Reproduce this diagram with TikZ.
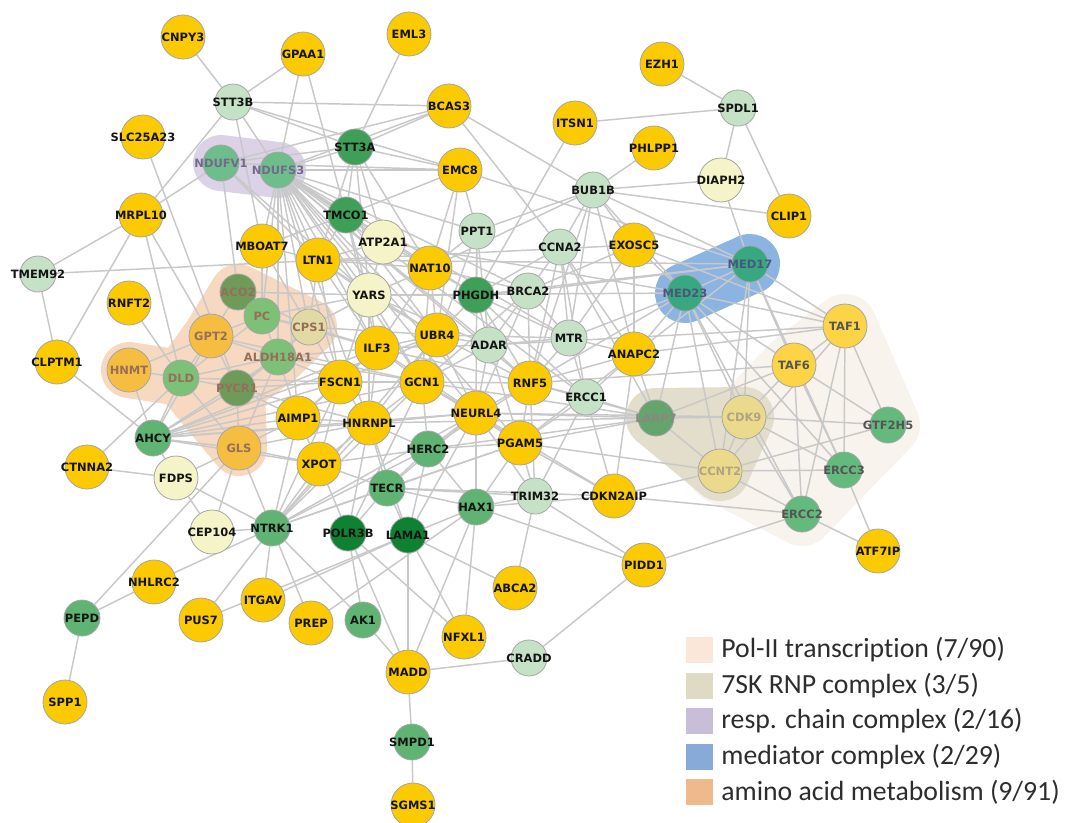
\documentclass[tikz,border=0pt]{standalone}
\usepackage{fontspec}
\usepackage{tikz}
\usetikzlibrary{positioning}

\newfontfamily\genefont{DejaVu Sans}
\newfontfamily\legendfont{Carlito}[Ligatures=NoCommon]

% node fills
\definecolor{geneyellow}{RGB}{252,202,0}
\definecolor{palegene}{RGB}{245,243,200}
\definecolor{lightgene}{RGB}{198,226,198}
\definecolor{midgene}{RGB}{95,180,115}
\definecolor{darkgene}{RGB}{62,160,88}
\definecolor{deepgene}{RGB}{14,130,50}
\definecolor{ndufgreen}{RGB}{110,190,140}
\definecolor{medgreen}{RGB}{55,168,128}
\definecolor{aminoolive}{RGB}{110,155,90}
\definecolor{aminogreen}{RGB}{125,192,120}
\definecolor{aminoyellow}{RGB}{245,190,65}
\definecolor{cpspale}{RGB}{225,218,165}
\definecolor{tafyellow}{RGB}{252,212,70}
\definecolor{polgreen}{RGB}{100,185,125}
\definecolor{sevenyellow}{RGB}{236,218,140}
\definecolor{larpgreen}{RGB}{100,165,110}
% label colours
\definecolor{genetext}{RGB}{20,20,20}
\definecolor{ndufText}{RGB}{115,105,140}
\definecolor{medText}{RGB}{75,85,125}
\definecolor{aminoText}{RGB}{150,110,90}
\definecolor{polText}{RGB}{85,85,85}
\definecolor{sevenText}{RGB}{175,165,130}
\definecolor{larpText}{RGB}{140,135,125}
\definecolor{legendtext}{RGB}{45,45,45}
% lines
\definecolor{edgegray}{RGB}{200,200,200}
\definecolor{nodeline}{RGB}{165,165,165}
% group hulls and legend
\definecolor{polhull}{RGB}{248,243,236}
\definecolor{sevenhull}{RGB}{226,222,203}
\definecolor{resphull}{RGB}{220,210,232}
\definecolor{medhull}{RGB}{140,180,226}
\definecolor{aminohull}{RGB}{247,216,192}
\definecolor{polleg}{RGB}{250,231,217}
\definecolor{sevenleg}{RGB}{222,218,196}
\definecolor{respleg}{RGB}{200,190,215}
\definecolor{medleg}{RGB}{135,170,215}
\definecolor{aminoleg}{RGB}{240,185,140}

\pgfdeclarelayer{hulls}
\pgfdeclarelayer{edges}
\pgfsetlayers{hulls,edges,main}

\tikzset{
  gene/.style={circle, draw=nodeline, line width=0.6pt, inner sep=0pt},
  big/.style={gene, minimum size=33pt},
  small/.style={gene, minimum size=27pt},
  lbl/.style={font=\genefont\bfseries\fontsize{8.6}{9}\selectfont, text=genetext, inner sep=0pt},
  edge/.style={draw=edgegray, line width=1.1pt},
  hull/.style={line join=round, line cap=round},
  legsq/.style={minimum size=20pt, inner sep=0pt},
  legtxt/.style={font=\legendfont\fontsize{20.8}{24}\selectfont, text=legendtext, inner sep=0pt}
}

\begin{document}
\begin{tikzpicture}[x=0.75pt, y=-0.75pt]
    \useasboundingbox (0,0) rectangle (1067,822);

    % yellow genes
    \foreach \n/\x/\y in {CNPY3/183/37, GPAA1/303/54, EML3/409/34, SLC25A23/143/137, BCAS3/449/106,
        ITSN1/575/123, EZH1/662/64, PHLPP1/654/148, EMC8/460/170, CLIP1/789/216, MRPL10/141/215,
        MBOAT7/262/246, LTN1/318/260, NAT10/430/268, EXOSC5/634/245, RNFT2/129/303, CLPTM1/57/362,
        ILF3/377/348, UBR4/437/335, FSCN1/340/382, GCN1/422/382, RNF5/530/383, ANAPC2/634/354,
        NEURL4/476/413, AIMP1/298/418, HNRNPL/369/423, PGAM5/520/443, XPOT/319/464, CTNNA2/87/467,
        CDKN2AIP/614/496, NHLRC2/154/582, ITGAV/263/600, PUS7/201/620, PREP/311/623, ABCA2/515/588,
        PIDD1/644/565, NFXL1/464/637, MADD/408/672, SPP1/65/702, SGMS1/413/805, ATF7IP/878/551}
        \node[big, fill=geneyellow, label={[lbl]center:\n}] (\n) at (\x,\y) {};

    % pale genes
    \foreach \n/\x/\y in {ATP2A1/383/242, YARS/369/295, DIAPH2/721/180, FDPS/176/478, CEP104/212/532}
        \node[big, fill=palegene, label={[lbl]center:\n}] (\n) at (\x,\y) {};

    % green genes, light to deep
    \foreach \n/\x/\y in {STT3B/233/102, TMEM92/38/274, PPT1/477/231, BUB1B/593/190, SPDL1/738/108,
        CCNA2/560/247, BRCA2/528/291, ADAR/489/345, MTR/569/338, ERCC1/586/397, TRIM32/535/496,
        CRADD/529/658}
        \node[small, fill=lightgene, label={[lbl]center:\n}] (\n) at (\x,\y) {};
    \foreach \n/\x/\y in {AHCY/153/438, NTRK1/272/528, HERC2/428/449, TECR/387/488, HAX1/476/507,
        AK1/363/620, PEPD/82/618, SMPD1/412/742}
        \node[small, fill=midgene, label={[lbl]center:\n}] (\n) at (\x,\y) {};
    \foreach \n/\x/\y in {STT3A/355/147, TMCO1/346/215, PHGDH/476/295}
        \node[small, fill=darkgene, label={[lbl]center:\n}] (\n) at (\x,\y) {};
    \foreach \n/\x/\y in {POLR3B/348/533, LAMA1/408/535}
        \node[small, fill=deepgene, label={[lbl]center:\n}] (\n) at (\x,\y) {};

    % resp. chain complex
    \foreach \n/\x/\y in {NDUFV1/221/163, NDUFS3/278/170}
        \node[small, fill=ndufgreen, label={[lbl, text=ndufText]center:\n}] (\n) at (\x,\y) {};
    % mediator complex
    \foreach \n/\x/\y in {MED23/685/293, MED17/750/264}
        \node[small, fill=medgreen, label={[lbl, text=medText]center:\n}] (\n) at (\x,\y) {};

    % amino acid metabolism
    \foreach \n/\x/\y in {ACO2/238/292, PYCR1/237/388}
        \node[small, fill=aminoolive, label={[lbl, text=aminoText]center:\n}] (\n) at (\x,\y) {};
    \foreach \n/\x/\y in {PC/262/316, ALDH18A1/278/357, DLD/181/378}
        \node[small, fill=aminogreen, label={[lbl, text=aminoText]center:\n}] (\n) at (\x,\y) {};
    \foreach \n/\x/\y in {GPT2/211/336, HNMT/129/370, GLS/239/448}
        \node[big, fill=aminoyellow, label={[lbl, text=aminoText]center:\n}] (\n) at (\x,\y) {};
    \node[small, fill=cpspale, label={[lbl, text=aminoText]center:CPS1}] (CPS1) at (309,327) {};

    % Pol-II transcription and 7SK RNP
    \foreach \n/\x/\y in {TAF1/845/326, TAF6/794/365}
        \node[big, fill=tafyellow, label={[lbl, text=polText]center:\n}] (\n) at (\x,\y) {};
    \foreach \n/\x/\y in {GTF2H5/888/425, ERCC3/844/470, ERCC2/802/514}
        \node[small, fill=polgreen, label={[lbl, text=polText]center:\n}] (\n) at (\x,\y) {};
    \foreach \n/\x/\y in {CDK9/744/417, CCNT2/720/471}
        \node[big, fill=sevenyellow, label={[lbl, text=sevenText]center:\n}] (\n) at (\x,\y) {};
    \node[small, fill=larpgreen, label={[lbl, text=larpText]center:LARP7}] (LARP7) at (656,418) {};

    % group hulls
    \begin{pgfonlayer}{hulls}
        \filldraw[polhull, hull, line width=48pt] (TAF1.center) -- (GTF2H5.center) -- (ERCC3.center)
            -- (ERCC2.center) -- (CCNT2.center) -- (CDK9.center) -- (TAF6.center) -- cycle;
        \filldraw[sevenhull, hull, line width=45pt] (LARP7.center) -- (CDK9.center) -- (CCNT2.center) -- cycle;
        \draw[resphull, hull, line width=42pt] (NDUFV1.center) -- (NDUFS3.center);
        \draw[medhull, hull, line width=45pt] (MED23.center) -- (MED17.center);
        \filldraw[aminohull, hull, line width=42pt] (HNMT.center) -- (DLD.center) -- (GPT2.center)
            -- (ACO2.center) -- (CPS1.center) -- (ALDH18A1.center) -- (PYCR1.center) -- (GLS.center)
            -- (DLD.center) -- cycle;
    \end{pgfonlayer}

    % interactions
    \begin{pgfonlayer}{edges}
    \foreach \a/\b in {CNPY3/STT3B, GPAA1/STT3B, GPAA1/NDUFS3, GPAA1/TMCO1, STT3B/BCAS3, STT3B/STT3A,
        STT3B/NDUFS3, STT3B/MRPL10, STT3B/MBOAT7, STT3B/EMC8, SLC25A23/PYCR1, NDUFV1/MRPL10,
        NDUFV1/STT3A, NDUFV1/ACO2, NDUFV1/LTN1, NDUFV1/BCAS3, NDUFV1/YARS, NDUFV1/EMC8,
        NDUFS3/STT3A, NDUFS3/EMC8, NDUFS3/BCAS3, NDUFS3/TMCO1, NDUFS3/LTN1, NDUFS3/ATP2A1,
        NDUFS3/YARS, NDUFS3/ILF3, NDUFS3/UBR4, NDUFS3/GCN1, NDUFS3/FSCN1, NDUFS3/NAT10,
        NDUFS3/PHGDH, NDUFS3/ADAR, NDUFS3/RNF5, NDUFS3/MTR, NDUFS3/NEURL4, NDUFS3/PGAM5,
        NDUFS3/HNRNPL, NDUFS3/CPS1, NDUFS3/PC, NDUFS3/ALDH18A1, NDUFS3/MBOAT7, NDUFS3/BRCA2,
        NDUFS3/ERCC1, NDUFS3/AIMP1, NDUFS3/PPT1,
        MRPL10/TMEM92, MRPL10/CLPTM1, MRPL10/GPT2, MRPL10/DLD, TMEM92/CLPTM1, TMEM92/EXOSC5,
        RNFT2/DLD, CLPTM1/AHCY, CTNNA2/DLD, CTNNA2/FDPS,
        STT3A/EML3, STT3A/BCAS3, STT3A/TMCO1, STT3A/EMC8, STT3A/ATP2A1, STT3A/NAT10, STT3A/YARS,
        STT3A/LTN1, TMCO1/EMC8, TMCO1/LTN1, TMCO1/ATP2A1, TMCO1/YARS, TMCO1/UBR4, TMCO1/ILF3,
        BCAS3/BUB1B, BCAS3/CCNA2, EMC8/PPT1, EMC8/NAT10, EMC8/MED17, EMC8/UBR4,
        ITSN1/SPDL1, ITSN1/PHGDH, EZH1/SPDL1, SPDL1/DIAPH2, SPDL1/CLIP1, PHLPP1/BUB1B, BUB1B/DIAPH2,
        BUB1B/CLIP1, BUB1B/CCNA2, BUB1B/EXOSC5, BUB1B/ANAPC2, BUB1B/MTR, BUB1B/MED23, BUB1B/NAT10,
        BUB1B/PPT1, BUB1B/MED17, BUB1B/RNF5, DIAPH2/MED17,
        PPT1/NAT10, PPT1/PHGDH, PPT1/GCN1, PPT1/ADAR, PPT1/NEURL4,
        CCNA2/BRCA2, CCNA2/MTR, CCNA2/RNF5, CCNA2/ANAPC2, CCNA2/ERCC1, CCNA2/PHGDH, CCNA2/LARP7,
        EXOSC5/MED23, EXOSC5/ANAPC2, EXOSC5/MTR, EXOSC5/BRCA2, EXOSC5/TAF1,
        MED17/MED23, MED17/TAF1, MED17/TAF6, MED17/CDK9, MED17/CCNT2, MED17/ERCC3, MED17/PHGDH,
        MED17/LTN1, MED17/BRCA2, MED17/ANAPC2,
        MED23/TAF1, MED23/TAF6, MED23/CDK9, MED23/CCNT2, MED23/ANAPC2, MED23/MTR, MED23/RNF5,
        MED23/ATP2A1, MED23/LARP7, MED23/ERCC3, MED23/YARS, MED23/ERCC2,
        TAF1/TAF6, TAF1/GTF2H5, TAF1/ERCC3, TAF1/ERCC2, TAF1/ANAPC2, TAF1/CCNT2, TAF1/ADAR,
        TAF6/GTF2H5, TAF6/ERCC3, TAF6/ERCC2, TAF6/CDK9, TAF6/LARP7, TAF6/RNF5,
        CDK9/GTF2H5, CDK9/ERCC3, CDK9/ERCC2, CDK9/CCNT2, CDK9/LARP7, CDK9/NEURL4,
        CCNT2/ERCC3, CCNT2/ERCC2, CCNT2/GTF2H5, CCNT2/LARP7, CCNT2/PGAM5,
        ERCC3/ATF7IP, ERCC2/ATF7IP, ERCC2/PIDD1, ERCC2/CDKN2AIP,
        LARP7/ERCC1, LARP7/RNF5, LARP7/NEURL4, LARP7/PGAM5, LARP7/ANAPC2, LARP7/GCN1, LARP7/HNRNPL,
        LARP7/HERC2, ANAPC2/ERCC1, ANAPC2/MTR, ANAPC2/RNF5, ANAPC2/CDKN2AIP, ANAPC2/PGAM5,
        CDKN2AIP/PGAM5, CDKN2AIP/HAX1, CDKN2AIP/NEURL4, CDKN2AIP/ERCC1, CDKN2AIP/CCNT2, CDKN2AIP/TECR,
        YARS/ATP2A1, YARS/ILF3, YARS/UBR4, YARS/GCN1, YARS/FSCN1, YARS/LTN1, YARS/PHGDH, YARS/NAT10,
        YARS/HNRNPL, YARS/CPS1, YARS/ADAR,
        ILF3/UBR4, ILF3/GCN1, ILF3/FSCN1, ILF3/HNRNPL, ILF3/NEURL4, ILF3/ADAR, ILF3/AIMP1, ILF3/RNF5,
        UBR4/GCN1, UBR4/ADAR, UBR4/PHGDH, UBR4/NAT10, UBR4/RNF5, UBR4/NEURL4, UBR4/HNRNPL, UBR4/FSCN1,
        UBR4/MTR, GCN1/FSCN1, GCN1/HNRNPL, GCN1/NEURL4, GCN1/RNF5, GCN1/HERC2, GCN1/PGAM5, GCN1/ADAR,
        GCN1/BRCA2, NAT10/PHGDH, NAT10/ATP2A1, NAT10/LTN1, NAT10/ILF3, NAT10/GCN1, NAT10/BRCA2,
        PHGDH/BRCA2, PHGDH/ADAR, PHGDH/MTR, PHGDH/RNF5, PHGDH/ERCC1,
        ADAR/RNF5, ADAR/NEURL4, ADAR/MTR, ADAR/BRCA2, ADAR/PGAM5,
        MTR/RNF5, MTR/ERCC1, BRCA2/MTR, BRCA2/RNF5, BRCA2/NEURL4,
        RNF5/NEURL4, RNF5/PGAM5, RNF5/ERCC1, RNF5/HERC2,
        NEURL4/PGAM5, NEURL4/HERC2, NEURL4/HNRNPL, NEURL4/HAX1, NEURL4/TRIM32, NEURL4/TECR,
        PGAM5/HAX1, PGAM5/TRIM32, PGAM5/HERC2, PGAM5/TECR, PGAM5/ERCC1,
        HNRNPL/FSCN1, HNRNPL/AIMP1, HNRNPL/XPOT, HNRNPL/HERC2, HNRNPL/TECR,
        FSCN1/AIMP1, FSCN1/XPOT, AIMP1/XPOT, XPOT/TECR, XPOT/NTRK1, XPOT/HERC2,
        HERC2/TECR, HERC2/HAX1, HERC2/LAMA1, TECR/LAMA1, TECR/POLR3B, TECR/HAX1, TECR/TRIM32,
        LTN1/ATP2A1, LTN1/MBOAT7, LTN1/FSCN1, LTN1/ILF3, LTN1/CPS1, LTN1/UBR4,
        MBOAT7/PC, MBOAT7/CPS1, MBOAT7/TMCO1,
        ACO2/PC, ACO2/GPT2, ACO2/CPS1, PC/GPT2, PC/CPS1, PC/ALDH18A1, PC/DLD, GPT2/DLD, GPT2/HNMT,
        GPT2/PYCR1, GPT2/ALDH18A1, HNMT/DLD, DLD/PYCR1, DLD/GLS, DLD/ALDH18A1, PYCR1/ALDH18A1,
        PYCR1/GLS, ALDH18A1/CPS1, GLS/ALDH18A1, CPS1/PYCR1,
        AHCY/HNMT, AHCY/DLD, AHCY/PYCR1, AHCY/GLS, AHCY/FDPS, AHCY/ALDH18A1, AHCY/GPT2, AHCY/AIMP1,
        AHCY/FSCN1, AHCY/ILF3, AHCY/GCN1, AHCY/HNRNPL, AHCY/XPOT, AHCY/UBR4, AHCY/NEURL4,
        CPS1/ILF3, CPS1/UBR4, CPS1/FSCN1, ALDH18A1/FSCN1, ALDH18A1/ILF3, ALDH18A1/GCN1, ALDH18A1/AIMP1,
        PYCR1/FSCN1, PYCR1/HNRNPL, PYCR1/AIMP1, GLS/AIMP1, GLS/XPOT, GLS/HNRNPL, GLS/NTRK1,
        DLD/FSCN1, PC/ILF3, PC/YARS, GPT2/GCN1, ACO2/YARS,
        FDPS/NTRK1, FDPS/CEP104, FDPS/GLS, CEP104/NTRK1, CEP104/GLS, PEPD/GLS, PEPD/NHLRC2,
        PEPD/SPP1, NHLRC2/NTRK1,
        NTRK1/PUS7, NTRK1/ITGAV, NTRK1/PREP, NTRK1/AK1, NTRK1/HNRNPL, NTRK1/AIMP1, NTRK1/TECR,
        NTRK1/GCN1, NTRK1/FSCN1, NTRK1/HERC2, NTRK1/NEURL4, NTRK1/PGAM5, NTRK1/UBR4,
        ITGAV/LAMA1, PREP/HAX1,
        POLR3B/AK1, POLR3B/MADD, POLR3B/NFXL1, POLR3B/HNRNPL, POLR3B/XPOT, POLR3B/GCN1,
        LAMA1/MADD, LAMA1/NFXL1, LAMA1/ABCA2, LAMA1/HAX1, LAMA1/PUS7, LAMA1/HNRNPL, LAMA1/NEURL4,
        HAX1/MADD, HAX1/NFXL1, HAX1/PIDD1, HAX1/TRIM32, TRIM32/ABCA2, TRIM32/PIDD1, TRIM32/RNF5,
        TRIM32/ERCC1, AK1/MADD, MADD/CRADD, MADD/SMPD1, SMPD1/SGMS1, CRADD/PIDD1}
        \draw[edge] (\a) -- (\b);
    \end{pgfonlayer}

    % legend
    \node[legsq, fill=polleg] (sqpol) at (699.5,650) {};
    \node[legtxt, right=6pt of sqpol] (txtpol) {Pol-II transcription (7/90)};
    \node[legsq, fill=sevenleg] (sqseven) at (699.5,686) {};
    \node[legtxt, right=6pt of sqseven] (txtseven) {7SK RNP complex (3/5)};
    \node[legsq, fill=respleg] (sqresp) at (699.5,721) {};
    \node[legtxt, right=6pt of sqresp] (txtresp) {resp. chain complex (2/16)};
    \node[legsq, fill=medleg] (sqmed) at (699.5,757) {};
    \node[legtxt, right=6pt of sqmed] (txtmed) {mediator complex (2/29)};
    \node[legsq, fill=aminoleg] (sqamino) at (699.5,792) {};
    \node[legtxt, right=6pt of sqamino] (txtamino) {amino acid metabolism (9/91)};
\end{tikzpicture}
\end{document}
